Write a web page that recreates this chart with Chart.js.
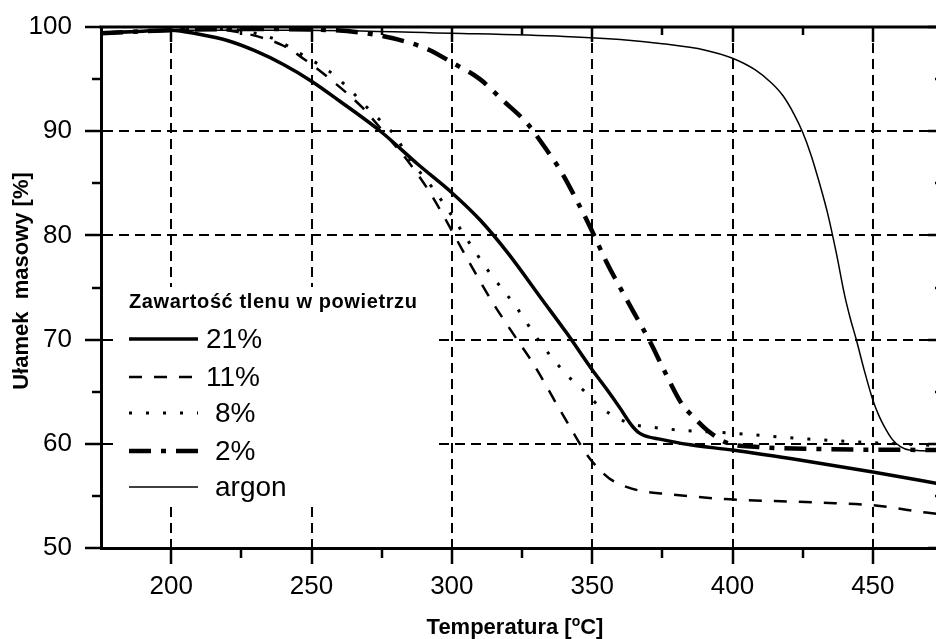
<!DOCTYPE html>
<html>
<head>
<meta charset="utf-8">
<script src="https://cdn.jsdelivr.net/npm/chart.js@4.4.1/dist/chart.umd.min.js"></script>
<style>
  html, body { margin: 0; padding: 0; background: #fff; overflow: hidden; }
  #wrap { width: 943px; height: 639px; }
</style>
</head>
<body>
<div id="wrap"><canvas id="c" width="943" height="639"></canvas></div>
<script>
// axis ticks
var xTicks = [200, 250, 300, 350, 400, 450];
var xMinor = [225, 275, 325, 375, 425];
var yTicks = [50, 60, 70, 80, 90, 100];
var yMinor = [55, 65, 75, 85, 95];

// series: temperature [oC] / mass fraction [%]
var t21 = [175, 190, 200, 210, 220, 230, 240, 250, 260, 275, 288, 300, 310, 320, 332, 341, 350, 355, 360, 364, 367, 375, 385, 400, 425, 450, 475];
var m21 = [99.4, 99.6, 99.7, 99.3, 98.7, 97.7, 96.4, 94.8, 92.9, 89.9, 86.8, 84.1, 81.5, 78.3, 73.9, 70.6, 67.1, 65.3, 63.4, 61.8, 61.0, 60.4, 59.9, 59.4, 58.4, 57.3, 56.1];

var t11 = [175, 200, 215, 224, 232, 240, 248, 258, 268, 277, 285, 292, 297, 305, 314, 323, 329, 338, 343, 348, 352, 356, 360, 367, 376, 397, 415, 432, 450, 469, 475];
var m11 = [99.4, 99.7, 99.8, 99.5, 99.0, 98.2, 96.8, 94.7, 92.3, 89.5, 86.9, 84.2, 81.9, 78.0, 73.8, 70.1, 67.7, 63.5, 61.2, 59.0, 57.7, 56.7, 56.1, 55.5, 55.2, 54.7, 54.5, 54.35, 54.1, 53.4, 53.2];

var t8 = [175, 200, 220, 230, 238, 245, 252, 258, 264, 269, 275, 280, 284, 293, 298, 305, 313, 323, 331, 341, 347, 353, 359, 364, 371, 382, 401, 419, 443, 475];
var m8 = [99.4, 99.7, 99.8, 99.4, 98.7, 97.6, 96.5, 95.4, 93.9, 92.5, 90.9, 89.5, 87.7, 84.6, 82.7, 79.8, 76.6, 73.1, 69.9, 66.6, 65.1, 63.5, 62.5, 61.9, 61.6, 61.3, 61.0, 60.6, 60.2, 59.8];

var t2 = [175, 200, 230, 257, 274, 286, 292, 300, 310, 318, 327, 333, 339, 345, 350, 355, 363, 371, 375, 382, 386, 391, 398, 409, 430, 475];
var m2 = [99.4, 99.7, 99.8, 99.7, 99.2, 98.4, 97.8, 96.6, 95.0, 93.0, 90.7, 88.5, 86.1, 83.1, 80.4, 77.5, 73.5, 69.6, 67.4, 63.8, 62.6, 61.3, 60.1, 59.7, 59.5, 59.4];

var tAr = [175, 200, 246, 300, 340, 360, 375, 390, 400, 408, 414, 418, 422, 425, 428, 431, 434, 437, 440, 442, 444, 447, 450, 452, 454, 457, 460, 463, 475];
var mAr = [99.5, 99.7, 99.7, 99.4, 99.1, 98.8, 98.4, 97.8, 97.0, 95.9, 94.6, 93.4, 91.6, 89.9, 87.7, 85.0, 82.0, 78.3, 74.2, 72.0, 70.1, 67.0, 64.2, 62.8, 61.7, 60.4, 59.7, 59.4, 59.3];

var FONT = "'Liberation Sans', Arial, sans-serif";

function pts(xs, ys) {
  return xs.map(function(x, i) { return { x: x, y: ys[i] }; });
}

var series = [
  { label: '21%',   data: pts(t21, m21), width: 3.5, dash: [] },
  { label: '11%',   data: pts(t11, m11), width: 2.5, dash: [13, 12] },
  { label: ' 8%',   data: pts(t8, m8),   width: 3,   dash: [3, 14] },
  { label: '2%',    data: pts(t2, m2),   width: 4.5, dash: [22, 10, 5, 10] },
  { label: 'argon', data: pts(tAr, mAr), width: 1.5, dash: [] }
];

function line(ctx, x1, y1, x2, y2) {
  ctx.beginPath(); ctx.moveTo(x1, y1); ctx.lineTo(x2, y2); ctx.stroke();
}

var decor = {
  id: 'decor',
  beforeDatasetsDraw: function(chart) {
    var ctx = chart.ctx, a = chart.chartArea, xs = chart.scales.x, ys = chart.scales.y;
    ctx.save();
    ctx.strokeStyle = '#000';
    ctx.lineWidth = 3;
    line(ctx, a.left - 1.5, a.top, a.right, a.top);
    line(ctx, a.right, a.top, a.right, a.bottom);
    ctx.lineWidth = 2.5;
    xTicks.forEach(function(v) {
      var p = Math.round(xs.getPixelForValue(v));
      line(ctx, p, a.bottom, p, a.bottom + 16);
      line(ctx, p, a.top, p, a.top + 15);
    });
    xMinor.forEach(function(v) {
      var p = Math.round(xs.getPixelForValue(v));
      line(ctx, p, a.bottom, p, a.bottom + 10);
      line(ctx, p, a.top, p, a.top + 8);
    });
    yTicks.forEach(function(v) {
      var p = Math.round(ys.getPixelForValue(v));
      line(ctx, a.left - 16, p, a.left, p);
      line(ctx, a.right - 15, p, a.right, p);
    });
    yMinor.forEach(function(v) {
      var p = Math.round(ys.getPixelForValue(v));
      line(ctx, a.left - 9, p, a.left, p);
      line(ctx, a.right - 8, p, a.right, p);
    });
    ctx.restore();
  },
  afterDatasetsDraw: function(chart) {
    var ctx = chart.ctx;
    ctx.save();
    // legend box covers the grid
    ctx.fillStyle = '#fff';
    ctx.fillRect(113, 287, 320, 218);
    ctx.fillStyle = '#000';
    ctx.font = 'bold 20px ' + FONT;
    ctx.textBaseline = 'alphabetic';
    ctx.textAlign = 'left';
    if ('letterSpacing' in ctx) ctx.letterSpacing = '0.6px';
    ctx.fillText('Zawartość tlenu w powietrzu', 129, 308);
    if ('letterSpacing' in ctx) ctx.letterSpacing = '0px';
    ctx.font = '28px ' + FONT;
    ctx.textBaseline = 'middle';
    var rows = [339, 377, 413, 451, 487];
    series.forEach(function(s, i) {
      ctx.strokeStyle = '#000';
      ctx.lineWidth = s.width;
      ctx.setLineDash(s.dash);
      line(ctx, 129, rows[i], 198, rows[i]);
      ctx.setLineDash([]);
      var tx = i < 2 ? 206 : 215;
      ctx.fillText(s.label.trim(), tx, rows[i] + 1);
    });
    ctx.restore();
  },
  afterDraw: function(chart) {
    var ctx = chart.ctx;
    ctx.save();
    ctx.fillStyle = '#000';
    // x title with superscript o
    var big = 'bold 22px ' + FONT, small = 'bold 14px ' + FONT;
    ctx.font = big;
    var w1 = ctx.measureText('Temperatura [').width;
    var w3 = ctx.measureText('C]').width;
    ctx.font = small;
    var w2 = ctx.measureText('o').width;
    var x0 = 515 - (w1 + w2 + w3) / 2, yb = 634;
    ctx.textBaseline = 'alphabetic';
    ctx.textAlign = 'left';
    ctx.font = big;
    ctx.fillText('Temperatura [', x0, yb);
    ctx.font = small;
    ctx.fillText('o', x0 + w1, yb - 8);
    ctx.font = big;
    ctx.fillText('C]', x0 + w1 + w2, yb);
    // y title
    ctx.translate(28, 281);
    ctx.rotate(-Math.PI / 2);
    ctx.textAlign = 'center';
    ctx.font = 'bold 22px ' + FONT;
    ctx.fillText('Ułamek  masowy [%]', 0, 0);
    ctx.restore();
  }
};

new Chart(document.getElementById('c'), {
  type: 'line',
  data: {
    datasets: series.map(function(s) {
      return {
        label: s.label,
        data: s.data,
        borderColor: '#000',
        borderWidth: s.width,
        borderDash: s.dash,
        pointRadius: 0,
        fill: false,
        cubicInterpolationMode: 'monotone'
      };
    })
  },
  options: {
    responsive: false,
    animation: false,
    devicePixelRatio: 1,
    layout: { padding: { top: 27, left: 0, right: 0, bottom: 0 } },
    plugins: { legend: { display: false }, tooltip: { enabled: false } },
    scales: {
      x: {
        type: 'linear',
        min: 175,
        max: 475,
        afterBuildTicks: function(s) { s.ticks = xTicks.map(function(v) { return { value: v }; }); },
        afterFit: function(s) { s.height = 91; s.paddingLeft = 0; s.paddingRight = 0; },
        grid: { color: '#000', lineWidth: 2, drawTicks: false },
        border: { display: true, color: '#000', width: 3, dash: [10, 6] },
        ticks: { color: '#000', font: { family: FONT, size: 26 }, padding: 23, maxRotation: 0 }
      },
      y: {
        min: 50,
        max: 100,
        afterBuildTicks: function(s) { s.ticks = yTicks.map(function(v) { return { value: v }; }); },
        afterFit: function(s) { s.width = 101; s.paddingTop = 0; s.paddingBottom = 0; },
        grid: { color: '#000', lineWidth: 2, drawTicks: false },
        border: { display: true, color: '#000', width: 3, dash: [10, 6] },
        ticks: { color: '#000', font: { family: FONT, size: 26 }, padding: 29 }
      }
    }
  },
  plugins: [decor]
});
</script>
</body>
</html>
